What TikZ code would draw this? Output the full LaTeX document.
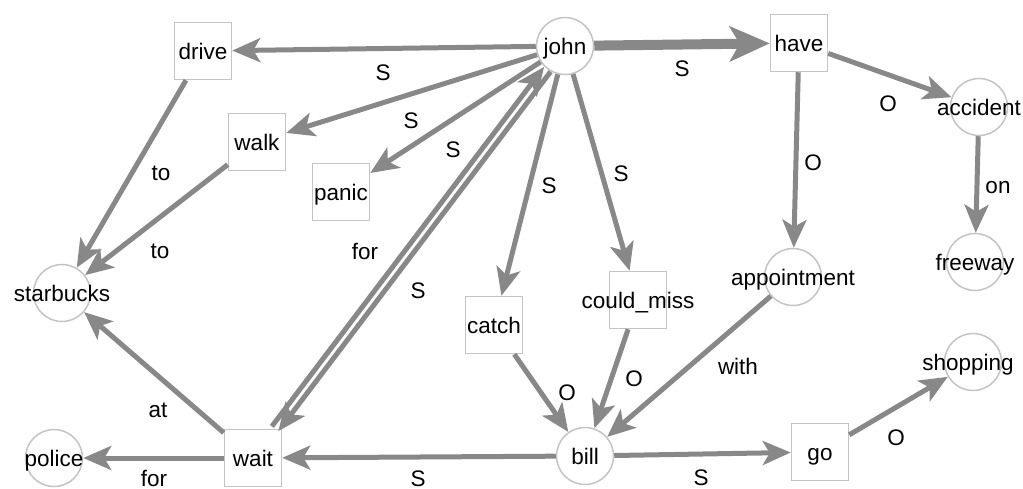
\documentclass[tikz,border=0pt]{standalone}
\usepackage{fontspec}
\setmainfont{Liberation Sans}
\usetikzlibrary{arrows.meta}
\definecolor{edgegray}{RGB}{136,136,136}
\definecolor{rimgray}{RGB}{196,196,196}

\begin{document}
\begin{tikzpicture}[x=1pt,y=-1pt,
  every node/.style={font=\fontsize{22.5}{27}\selectfont, inner sep=0pt, text height=16pt, text depth=0pt},
  term/.style={circle, draw=rimgray, line width=1.5pt, fill=white, minimum size=57pt},
  rel/.style={rectangle, draw=rimgray, line width=1.5pt, fill=white, minimum size=57pt},
  edge/.style={draw=edgegray, line width=5pt, -{Stealth[length=28pt,width=24pt,inset=7pt]}},
  heavy/.style={draw=edgegray, line width=10pt, -{Stealth[length=40pt,width=35pt,inset=10pt]}},
  lbl/.style={text=black}
]
\useasboundingbox (0,0) rectangle (1023,488);

% concepts (circles) and relations (boxes)
\node[term, label=center:john]        (john)        at (565,46)  {};
\node[rel,  label=center:drive]       (drive)       at (203,51)  {};
\node[rel,  label=center:walk]        (walk)        at (257,142) {};
\node[rel,  label=center:panic]       (panic)       at (341,192) {};
\node[rel,  label=center:have]        (have)        at (799,43)  {};
\node[term, label=center:accident]    (accident)    at (979,107) {};
\node[term, label=center:freeway]     (freeway)     at (975,262) {};
\node[term, label=center:appointment] (appointment) at (793,277) {};
\node[term, label={[xshift=-5pt]center:shopping}] (shopping) at (973,362) {};
\node[rel,  label=center:go]          (go)          at (820,452) {};
\node[term, label=center:bill]        (bill)        at (585,456) {};
\node[rel,  label=center:catch]       (catch)       at (494,325) {};
\node[rel,  label=center:could\_miss] (couldmiss)   at (638,300) {};
\node[rel,  label=center:wait]        (wait)        at (253,458) {};
\node[term, label=center:police]      (police)      at (54,458)  {};
\node[term, label=center:starbucks]   (starbucks)   at (62,293)  {};

% connectors
\draw[edge]  (john) -- (drive);
\draw[edge]  (john) -- (walk);
\draw[edge]  (john) -- (panic);
\draw[edge]  (john) -- (catch);
\draw[edge]  (john) -- (couldmiss);
\draw[heavy] (john) -- (have);
\draw[edge]  (have) -- (accident);
\draw[edge]  (have) -- (appointment);
\draw[edge]  (accident) -- (freeway);
\draw[edge]  (drive) -- (starbucks);
\draw[edge]  (walk) -- (starbucks);
\draw[edge]  (wait) -- (starbucks);
\draw[edge]  (wait) -- (police);
\draw[edge, transform canvas={shift={(-3.2,-2.4)}}] (wait) -- (john);
\draw[edge, transform canvas={shift={(3.2,2.4)}}]   (john) -- (wait);
\draw[edge]  (bill) -- (wait);
\draw[edge]  (bill) -- (go);
\draw[edge]  (go) -- (shopping);
\draw[edge]  (catch) -- (bill);
\draw[edge]  (couldmiss) -- (bill);
\draw[edge]  (appointment) -- (bill);

% connector labels
\node[lbl] (l-drive)  at (383,72)  {S};
\node[lbl] (l-walk)   at (411,120) {S};
\node[lbl] (l-panic)  at (453,149) {S};
\node[lbl] (l-catch)  at (549,185) {S};
\node[lbl] (l-miss)   at (621,173) {S};
\node[lbl] (l-have)   at (682,68)  {S};
\node[lbl] (l-acc)    at (888,103) {O};
\node[lbl] (l-appt)   at (813,162) {O};
\node[lbl] (l-on)     at (998,185) {on};
\node[lbl] (l-to1)    at (161,172) {to};
\node[lbl] (l-to2)    at (160,250) {to};
\node[lbl] (l-for1)   at (365,251) {for};
\node[lbl] (l-swait)  at (418,290) {S};
\node[lbl] (l-at)     at (158,409) {at};
\node[lbl] (l-for2)   at (154,478) {for};
\node[lbl] (l-sbill)  at (418,478) {S};
\node[lbl] (l-sgo)    at (701,477) {S};
\node[lbl] (l-shop)   at (896,437) {O};
\node[lbl] (l-ocatch) at (567,392) {O};
\node[lbl] (l-omiss)  at (634,378) {O};
\node[lbl] (l-with)   at (738,366) {with};
\end{tikzpicture}
\end{document}
